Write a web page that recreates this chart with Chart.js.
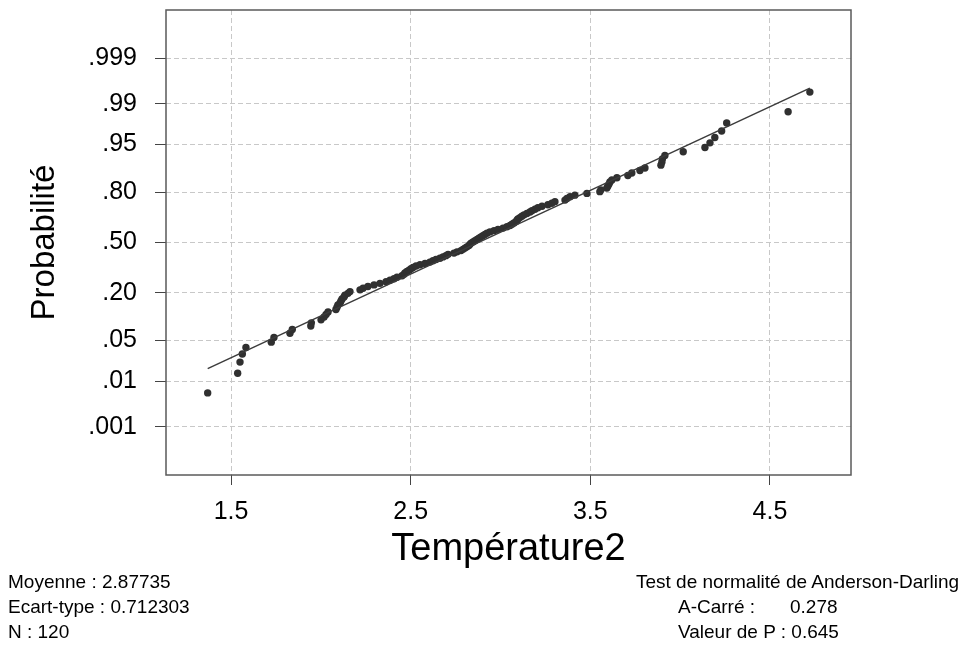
<!DOCTYPE html>
<html>
<head>
<meta charset="utf-8">
<script src="https://cdn.jsdelivr.net/npm/chart.js@4.4.0/dist/chart.umd.min.js"></script>
<style>
  html, body { margin: 0; padding: 0; background: #fff; }
  #wrap { position: relative; width: 971px; height: 645px; }
  #probChart { position: absolute; left: 0; top: 0; }
  .stat { position: absolute; font-family: "Liberation Sans", Arial, sans-serif; font-size: 19px; line-height: 25px; color: #000; white-space: pre; }
</style>
</head>
<body>
<div id="wrap">
  <canvas id="probChart" width="971" height="645"></canvas>
  <div class="stat" style="left:8px; top:569px;">Moyenne : 2.87735<br>Ecart-type : 0.712303<br>N : 120</div>
  <div class="stat" style="left:636px; top:569px;">Test de normalité de Anderson-Darling</div>
  <div class="stat" style="left:678px; top:594px;">A-Carré :</div>
  <div class="stat" style="left:790px; top:594px;">0.278</div>
  <div class="stat" style="left:678px; top:619px;">Valeur de P : 0.645</div>
</div>
<script>
        // Temperature2 sample (sorted)
        const temperatures = [
            1.370, 1.537, 1.550, 1.563, 1.583, 1.724, 1.739, 1.828, 1.841, 1.944,
            1.947, 2.001, 2.018, 2.029, 2.040, 2.084, 2.090, 2.095, 2.107, 2.112,
            2.118, 2.129, 2.134, 2.151, 2.162, 2.218, 2.235, 2.262, 2.296, 2.329,
            2.363, 2.385, 2.407, 2.424, 2.452, 2.463, 2.468, 2.479, 2.491, 2.502,
            2.513, 2.530, 2.552, 2.580, 2.607, 2.624, 2.641, 2.663, 2.680, 2.696,
            2.708, 2.741, 2.758, 2.780, 2.791, 2.802, 2.813, 2.824, 2.830, 2.836,
            2.847, 2.858, 2.869, 2.880, 2.891, 2.902, 2.913, 2.925, 2.941, 2.964,
            2.986, 3.014, 3.036, 3.053, 3.064, 3.075, 3.086, 3.092, 3.097, 3.108,
            3.119, 3.131, 3.147, 3.164, 3.175, 3.192, 3.208, 3.231, 3.264, 3.286,
            3.303, 3.359, 3.370, 3.387, 3.414, 3.481, 3.553, 3.559, 3.592, 3.598,
            3.604, 3.609, 3.620, 3.648, 3.709, 3.731, 3.776, 3.804, 3.893, 3.898,
            3.901, 3.915, 4.017, 4.138, 4.166, 4.193, 4.231, 4.259, 4.601, 4.722
        ];
        const mean = 2.87735;
        const stdDev = 0.712303;

        const probTicks = [0.001, 0.01, 0.05, 0.20, 0.50, 0.80, 0.95, 0.99, 0.999];
        const probLabels = ['.001', '.01', '.05', '.20', '.50', '.80', '.95', '.99', '.999'];
        const xTicks = [1.5, 2.5, 3.5, 4.5];

        // inverse normal CDF (Acklam) - maps probabilities onto the z scale
        function normInv(p) {
            const a = [-3.969683028665376e+01, 2.209460984245205e+02, -2.759285104469687e+02, 1.383577518672690e+02, -3.066479806614716e+01, 2.506628277459239e+00];
            const b = [-5.447609879822406e+01, 1.615858368580409e+02, -1.556989798598866e+02, 6.680131188771972e+01, -1.328068155288572e+01];
            const c = [-7.784894002430293e-03, -3.223964580411365e-01, -2.400758277161838e+00, -2.549732539343734e+00, 4.374664141464968e+00, 2.938163982698783e+00];
            const d = [7.784695709041462e-03, 3.224671290700398e-01, 2.445134137142996e+00, 3.754408661907416e+00];
            const pl = 0.02425;
            let q, r;
            if (p < pl) {
                q = Math.sqrt(-2 * Math.log(p));
                return (((((c[0]*q+c[1])*q+c[2])*q+c[3])*q+c[4])*q+c[5]) / ((((d[0]*q+d[1])*q+d[2])*q+d[3])*q+1);
            }
            if (p <= 1 - pl) {
                q = p - 0.5; r = q * q;
                return (((((a[0]*r+a[1])*r+a[2])*r+a[3])*r+a[4])*r+a[5])*q / (((((b[0]*r+b[1])*r+b[2])*r+b[3])*r+b[4])*r+1);
            }
            q = Math.sqrt(-2 * Math.log(1 - p));
            return -(((((c[0]*q+c[1])*q+c[2])*q+c[3])*q+c[4])*q+c[5]) / ((((d[0]*q+d[1])*q+d[2])*q+d[3])*q+1);
        }

        // median ranks (Benard) for the plotting positions
        const sorted = temperatures.slice().sort((a, b) => a - b);
        const n = sorted.length;
        const points = sorted.map((t, i) => ({ x: t, y: normInv((i + 1 - 0.3) / (n + 0.4)) }));
        const xMin = sorted[0], xMax = sorted[n - 1];
        const fitLine = [
            { x: xMin, y: (xMin - mean) / stdDev },
            { x: xMax, y: (xMax - mean) / stdDev }
        ];

        const frame = {
            id: 'frame',
            afterDraw(chart) {
                const { ctx, chartArea } = chart;
                ctx.save();
                ctx.strokeStyle = '#5a5a5a';
                ctx.lineWidth = 1.5;
                ctx.strokeRect(chartArea.left, chartArea.top, chartArea.right - chartArea.left, chartArea.bottom - chartArea.top);
                ctx.restore();
            }
        };

        const font = 'Liberation Sans, Arial, sans-serif';
        const ctx = document.getElementById('probChart').getContext('2d');
        const probChart = new Chart(ctx, {
            type: 'scatter',
            data: {
                datasets: [{
                    type: 'line',
                    data: fitLine,
                    borderColor: '#3c3c3c',
                    borderWidth: 1.5,
                    pointRadius: 0,
                    fill: false
                }, {
                    data: points,
                    backgroundColor: '#303030',
                    borderColor: '#303030',
                    borderWidth: 0,
                    pointRadius: 3.7
                }]
            },
            options: {
                responsive: false,
                animation: false,
                layout: { padding: { top: 10, right: 120, left: 0, bottom: 0 } },
                plugins: { legend: { display: false }, tooltip: { enabled: false } },
                scales: {
                    x: {
                        type: 'linear',
                        min: 1.138,
                        max: 4.951,
                        afterBuildTicks: scale => { scale.ticks = xTicks.map(v => ({ value: v })); },
                        afterFit: scale => { scale.height = 170; scale.paddingLeft = 0; scale.paddingRight = 0; },
                        ticks: {
                            autoSkip: false, maxRotation: 0, padding: 12, color: '#000',
                            font: { family: font, size: 25 },
                            callback: v => v.toFixed(1)
                        },
                        grid: { color: '#c8c8c8', tickColor: '#444', tickLength: 10, tickBorderDash: [] },
                        border: { display: false, dash: [5, 3] },
                        title: {
                            display: true, text: 'Température2', color: '#000',
                            font: { family: font, size: 38 },
                            padding: { top: 0, bottom: 73 }
                        }
                    },
                    y: {
                        type: 'linear',
                        min: -3.9,
                        max: 3.9,
                        afterBuildTicks: scale => { scale.ticks = probTicks.map(p => ({ value: normInv(p) })); },
                        afterFit: scale => { scale.width = 166; scale.paddingTop = 0; scale.paddingBottom = 0; },
                        ticks: {
                            autoSkip: false, padding: 18, color: '#000',
                            font: { family: font, size: 25 },
                            callback: (v, i) => probLabels[i]
                        },
                        grid: { color: '#c8c8c8', tickColor: '#444', tickLength: 11, tickBorderDash: [] },
                        border: { display: false, dash: [5, 3] },
                        title: {
                            display: true, text: 'Probabilité', color: '#000',
                            font: { family: font, size: 33 },
                            padding: { top: 25, bottom: 0 }
                        }
                    }
                }
            },
            plugins: [frame]
        });
</script>
</body>
</html>
